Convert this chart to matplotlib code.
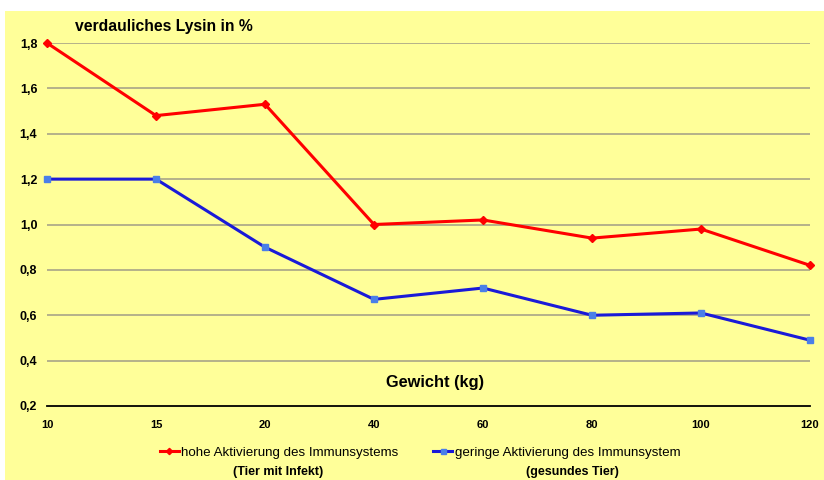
import matplotlib.pyplot as plt
from matplotlib.patches import Rectangle

plt.rcParams["font.family"] = ["Liberation Sans", "DejaVu Sans"]

gewicht = ["10", "15", "20", "40", "60", "80", "100", "120"]
hohe_aktivierung = [1.80, 1.48, 1.53, 1.00, 1.02, 0.94, 0.98, 0.82]
geringe_aktivierung = [1.20, 1.20, 0.90, 0.67, 0.72, 0.60, 0.61, 0.49]
y_ticks = [0.2, 0.4, 0.6, 0.8, 1.0, 1.2, 1.4, 1.6, 1.8]

W, H = 824, 480
fig = plt.figure(figsize=(W / 100, H / 100), dpi=100)
fig.patch.set_facecolor("white")
fig.patches.append(Rectangle((5 / W, 0), 1 - 5 / W, 1 - 11 / H,
                             transform=fig.transFigure, facecolor="#FFFF99",
                             edgecolor="none", zorder=-5))

ax = fig.add_axes([47 / W, 1 - 406 / H, (810 - 47) / W, (406 - 43) / H])
ax.set_zorder(2)
ax.set_facecolor("none")
x = list(range(len(gewicht)))

red_line, = ax.plot(x, hohe_aktivierung, color="#FF0000", lw=2.2,
                    marker="D", ms=4, mfc="#FF0000", mec="#FF0000", zorder=3,
                    clip_on=False)
blue_line, = ax.plot(x, geringe_aktivierung, color="#1A1AD8", lw=2.2,
                     marker="s", ms=4.5, mfc="#4A7FE8", mec="#4A7FE8", zorder=3,
                     clip_on=False)

ax.set_xlim(0, len(gewicht) - 1)
ax.set_ylim(0.2, 1.8)
ax.set_yticks(y_ticks)
ax.set_yticklabels([f"{v:.1f}".replace(".", ",") for v in y_ticks],
                   fontsize=9, fontweight="bold")
ax.set_xticks(x)
ax.set_xticklabels(gewicht, fontsize=8, fontweight="bold")
ax.tick_params(length=0)
ax.tick_params(axis="y", pad=7)
ax.tick_params(axis="x", pad=10)

for v in y_ticks[1:]:
    ax.axhline(v, color="#A8A488", lw=1.2, zorder=1)
for s in ["left", "right", "top"]:
    ax.spines[s].set_visible(False)
ax.spines["bottom"].set_color("black")
ax.spines["bottom"].set_linewidth(1.3)

fig.text(75 / W, 1 - 27 / H, "verdauliches Lysin in %", fontsize=11.3,
         fontweight="bold", va="center", ha="left")
ax.text(0.509, (406 - 383) / (406 - 43), "Gewicht (kg)", transform=ax.transAxes,
        fontsize=11.8, fontweight="bold", ha="center", va="center")

leg = fig.legend([red_line, blue_line],
                 ["hohe Aktivierung des Immunsystems",
                  "geringe Aktivierung des Immunsystem"],
                 loc="center left", bbox_to_anchor=(148 / W, 1 - 453 / H),
                 ncol=2, frameon=False, fontsize=9.6, handlelength=1.4,
                 handletextpad=0.2, columnspacing=2.6, markerscale=0.8)
fig.text(278 / W, 1 - 472 / H, "(Tier mit Infekt)", fontsize=9,
         fontweight="bold", ha="center", va="center")
fig.text(572 / W, 1 - 472 / H, "(gesundes Tier)", fontsize=9,
         fontweight="bold", ha="center", va="center")

fig.savefig("out.png", dpi=100)
